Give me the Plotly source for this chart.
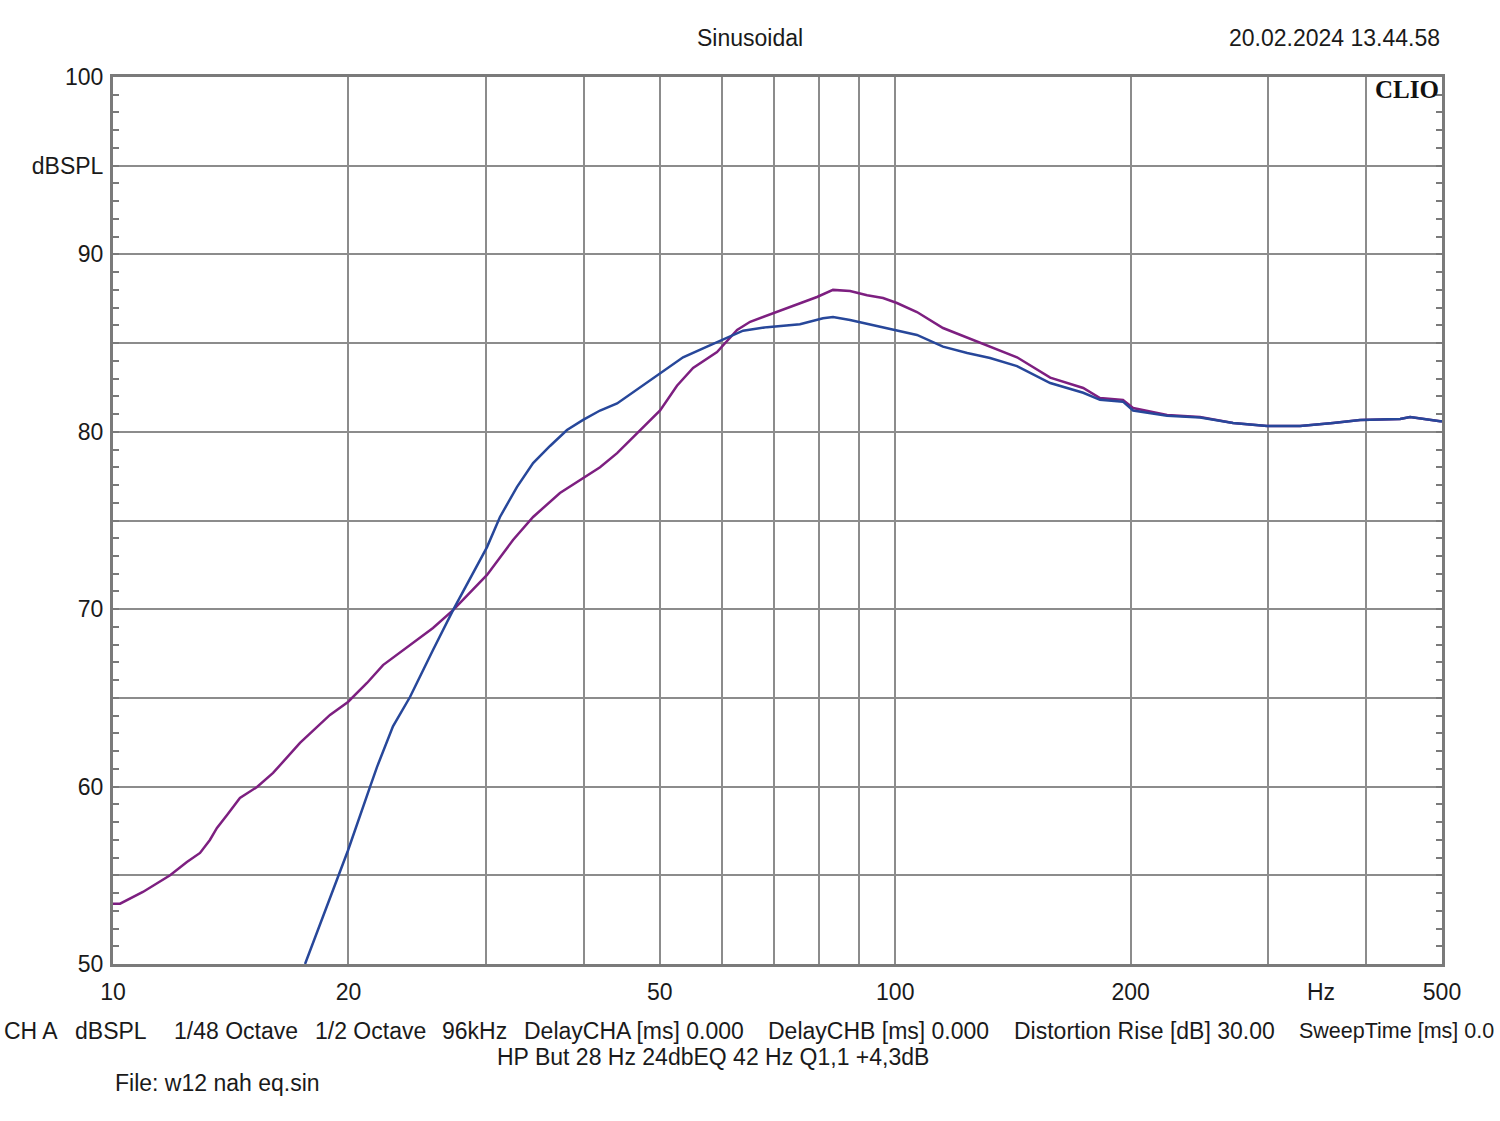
import plotly.graph_objects as go

# ---- data ----
freq_a = [10, 10.21, 10.92, 11.83, 12.43, 12.92, 13.30, 13.58, 13.99, 14.53, 15.28, 16.02,
          17.34, 18.94, 19.97, 21.12, 22.14, 23.97, 25.65, 27.21, 30.07, 32.46, 34.44,
          37.27, 39.90, 41.94, 44.10, 47.60, 50.05, 52.60, 55.15, 59.18, 62.78, 65.24,
          70.63, 75.54, 79.43, 83.26, 87.55, 92.04, 96.47, 100.5, 106.6, 115.1, 123.6,
          132.2, 143.1, 157.8, 173.9, 182.7, 195.5, 201.4, 222.6, 245.3, 270.3, 298.8,
          329.3, 362.8, 392.9, 442.0, 455.2, 497.2, 500]
spl_a = [53.4, 53.4, 54.06, 55.0, 55.75, 56.26, 56.99, 57.67, 58.4, 59.36, 59.98, 60.77,
         62.46, 64.04, 64.77, 65.84, 66.85, 67.98, 68.94, 69.95, 71.93, 73.9, 75.2,
         76.55, 77.4, 78.0, 78.8, 80.27, 81.2, 82.6, 83.6, 84.5, 85.74, 86.2,
         86.75, 87.26, 87.6, 88.0, 87.94, 87.7, 87.54, 87.26, 86.75, 85.85, 85.3,
         84.8, 84.2, 83.05, 82.47, 81.9, 81.8, 81.34, 80.95, 80.83, 80.5, 80.33,
         80.33, 80.5, 80.67, 80.72, 80.83, 80.6, 80.6]

freq_b = [17.6, 18.77, 19.97, 21.31, 21.75, 22.80, 23.97, 25.65, 27.21, 30.07, 31.24, 32.85,
          34.44, 36.20, 38.05, 39.90, 41.94, 44.10, 50.05, 53.55, 57.46, 60.95, 63.90,
          68.58, 75.54, 80.85, 83.26, 87.55, 96.47, 100.5, 106.6, 115.1, 123.6, 132.2,
          143.1, 157.8, 173.9, 182.7, 195.5, 201.4, 222.6, 245.3, 270.3, 298.8, 329.3,
          362.8, 392.9, 442.0, 455.2, 497.2, 500]
spl_b = [50.0, 53.2, 56.4, 59.98, 61.1, 63.4, 65.05, 67.7, 69.95, 73.5, 75.2, 76.9,
         78.24, 79.2, 80.1, 80.67, 81.2, 81.6, 83.3, 84.2, 84.8, 85.3, 85.7,
         85.9, 86.06, 86.4, 86.47, 86.3, 85.9, 85.74, 85.46, 84.8, 84.44, 84.16,
         83.7, 82.75, 82.2, 81.8, 81.7, 81.2, 80.9, 80.8, 80.5, 80.33, 80.33,
         80.5, 80.67, 80.72, 80.83, 80.6, 80.6]

x_tickvals = [10, 20, 30, 40, 50, 60, 70, 80, 90, 100, 200, 300, 400, 500]
x_ticktext = ["10", "20", "", "", "50", "", "", "", "", "100", "200", "", "", "500"]
y_tickvals = [50, 55, 60, 65, 70, 75, 80, 85, 90, 95, 100]
y_ticktext = ["50", "", "60", "", "70", "", "80", "", "90", "dBSPL", "100"]

footer_items = [
    ("CH A", 2), ("dBSPL", 73), ("1/48 Octave", 172), ("1/2 Octave", 313),
    ("96kHz", 440), ("DelayCHA [ms] 0.000", 522), ("DelayCHB [ms] 0.000", 766),
    ("Distortion Rise [dB] 30.00", 1012),
]
sweep_text = "SweepTime [ms] 0.0"

# ---- figure ----
L, R, T, B = 113, 1442, 77, 964
W, H = 1500, 1121
FS = 23
fig = go.Figure()
fig.add_trace(go.Scatter(x=freq_a, y=spl_a, mode="lines",
                         line=dict(color="#7d1f80", width=2.5), hoverinfo="skip"))
fig.add_trace(go.Scatter(x=freq_b, y=spl_b, mode="lines",
                         line=dict(color="#27479a", width=2.5), hoverinfo="skip"))

font = "Liberation Sans, Arial, sans-serif"
grid_col = "#8c8c8c"

fig.update_layout(
    width=W, height=H,
    margin=dict(l=L, r=W - R, t=T, b=H - B),
    paper_bgcolor="white", plot_bgcolor="white",
    showlegend=False,
    font=dict(family=font, size=FS, color="#1a1a1a"),
    xaxis=dict(type="log", range=[1, 2.69897], tickvals=x_tickvals, ticktext=x_ticktext,
               showgrid=True, gridcolor=grid_col, gridwidth=2,
               showline=True, linecolor="#7a7a7a", linewidth=3, mirror=True,
               ticks="", ticklabelstandoff=5, tickfont=dict(size=FS, family=font),
               zeroline=False),
    yaxis=dict(range=[50, 100], tickvals=y_tickvals, ticktext=y_ticktext,
               showgrid=True, gridcolor=grid_col, gridwidth=2,
               showline=True, linecolor="#7a7a7a", linewidth=3, mirror="ticks",
               ticks="inside", ticklen=6, tickcolor="#7a7a7a", tickwidth=2,
               minor=dict(dtick=1, tick0=50, ticks="inside", ticklen=6,
                          tickcolor="#7a7a7a", tickwidth=2, showgrid=False),
               ticklabelstandoff=2,
               tickfont=dict(size=FS, family=font), zeroline=False),
)

def px_x(p):
    return (p - L) / (R - L)

def px_y(p):
    return (B - p) / (B - T)

ann = [
    dict(text="Sinusoidal", x=px_x(750), y=px_y(38), xanchor="center", yanchor="middle"),
    dict(text="20.02.2024 13.44.58", x=px_x(1442), y=px_y(38), xanchor="right", yanchor="middle"),
    dict(text="<b>CLIO</b>", x=px_x(1441), y=px_y(89), xanchor="right", yanchor="middle",
         font=dict(family="Liberation Serif, DejaVu Serif, serif", size=25, color="#111111")),
    dict(text="Hz", x=px_x(1321), y=px_y(992), xanchor="center", yanchor="middle"),
    dict(text="HP But 28 Hz 24dbEQ 42 Hz Q1,1 +4,3dB", x=px_x(495), y=px_y(1057),
         xanchor="left", yanchor="middle"),
    dict(text="File: w12 nah eq.sin", x=px_x(113), y=px_y(1083), xanchor="left", yanchor="middle"),
    dict(text=sweep_text, x=px_x(1297), y=px_y(1031), xanchor="left", yanchor="middle",
         font=dict(family=font, size=21.5, color="#1a1a1a")),
]
for txt, xp in footer_items:
    ann.append(dict(text=txt, x=px_x(xp), y=px_y(1031), xanchor="left", yanchor="middle"))

for a in ann:
    a.update(xref="paper", yref="paper", showarrow=False)
    if "font" not in a:
        a["font"] = dict(family=font, size=FS, color="#1a1a1a")
    fig.add_annotation(**a)

fig.write_html("out.html")
